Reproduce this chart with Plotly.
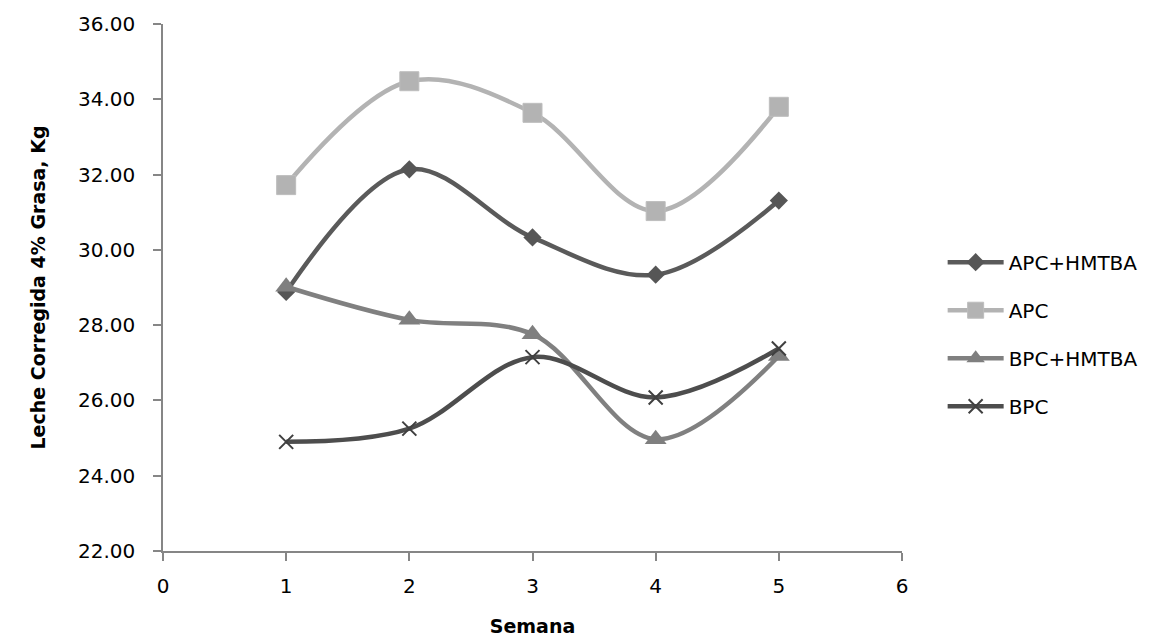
import plotly.graph_objects as go

semana = [1, 2, 3, 4, 5]
apc_hmtba = [28.88, 32.14, 30.33, 29.34, 31.31]
apc = [31.72, 34.48, 33.64, 31.03, 33.80]
bpc_hmtba = [29.02, 28.14, 27.76, 24.97, 27.18]
bpc = [24.90, 25.25, 27.15, 26.08, 27.38]

series_names = ["APC+HMTBA", "APC", "BPC+HMTBA", "BPC"]
y_ticks = [22, 24, 26, 28, 30, 32, 34, 36]
x_ticks = [0, 1, 2, 3, 4, 5, 6]

FONT = "DejaVu Sans"
AX = "#868686"

fig = go.Figure()
styles = [
    dict(line=dict(color="#5a5a5a", width=4.5, shape="spline", smoothing=1.0),
         marker=dict(symbol="diamond", size=14, color="#565656")),
    dict(line=dict(color="#b3b3b3", width=4.5, shape="spline", smoothing=1.0),
         marker=dict(symbol="square", size=19, color="#b3b3b3",
                     line=dict(color="#bdbdbd", width=1))),
    dict(line=dict(color="#808080", width=4.5, shape="spline", smoothing=1.0),
         marker=dict(symbol="triangle-up", size=19, color="#7f7f7f")),
    dict(line=dict(color="#4d4d4d", width=4.5, shape="spline", smoothing=1.0),
         marker=dict(symbol="x-thin", size=14, color="#404040",
                     line=dict(color="#404040", width=2))),
]
for name, ys, st in zip(series_names, [apc_hmtba, apc, bpc_hmtba, bpc], styles):
    fig.add_trace(go.Scatter(x=semana, y=ys, name=name, mode="lines+markers",
                             legendgroup=name, **st))

fig.update_layout(
    width=1155, height=637, autosize=False,
    margin=dict(l=163, r=251, t=24, b=86),
    paper_bgcolor="white", plot_bgcolor="white",
    font=dict(family=FONT, size=20, color="black"),
    showlegend=True,
    legend=dict(x=1.055, xanchor="left", y=0.585, yanchor="top",
                font=dict(family=FONT, size=20, color="black"),
                tracegroupgap=19, itemwidth=56, bgcolor="rgba(0,0,0,0)"),
    xaxis=dict(range=[0, 6], tickvals=x_ticks, ticktext=[str(v) for v in x_ticks],
               automargin=False,
               showgrid=False, zeroline=False, showline=True, linecolor=AX, linewidth=1.5,
               ticks="outside", ticklen=8, tickcolor=AX, tickwidth=1.5,
               ticklabelstandoff=8,
               title=dict(text="<b>Semana</b>", font=dict(family=FONT, size=19, color="black"),
                          standoff=33)),
    yaxis=dict(range=[22, 36], tickvals=y_ticks, tickformat=".2f",
               automargin=False,
               showgrid=False, zeroline=False, showline=True, linecolor=AX, linewidth=1.5,
               ticks="outside", ticklen=8, tickcolor=AX, tickwidth=1.5,
               ticklabelstandoff=14,
               title=dict(text="<b>Leche Corregida 4% Grasa, Kg</b>",
                          font=dict(family=FONT, size=19, color="black"), standoff=27)),
)

fig.write_html("out.html")
